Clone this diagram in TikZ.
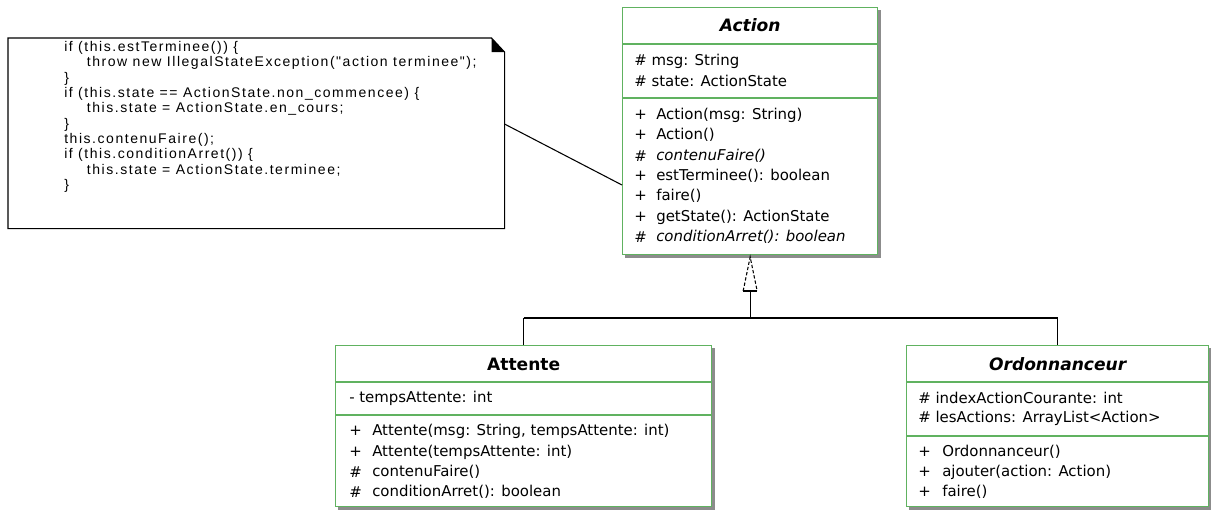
\documentclass[tikz,border=0pt]{standalone}
\usepackage{fontspec}
\setmainfont{DejaVu Sans}
\newfontfamily\notefont[LetterSpace=11]{Liberation Sans}
\newcommand\tightlines{\lineskiplimit=-10pt\relax\lineskip=0pt\relax}
\usetikzlibrary{backgrounds}
\definecolor{umlgreen}{RGB}{96,178,96}
\definecolor{shadowgray}{RGB}{140,140,140}
\tikzset{
  classbox/.style={draw=umlgreen, fill=white, line width=1pt, inner sep=0pt, anchor=north west},
  sep/.style={draw=umlgreen, line width=1pt},
  member/.style={anchor=west, inner sep=0pt, font=\fontsize{11.2}{13}\selectfont},
  ctitle/.style={inner sep=0pt, font=\fontsize{12.8}{15}\selectfont\bfseries},
  notetext/.style={anchor=north west, inner sep=0pt, align=left,
    font=\notefont\fontsize{10.5}{11.5}\selectfont\tightlines},
  link/.style={draw=black, line width=0.8pt},
}
\begin{document}
\begin{tikzpicture}[x=0.75pt, y=-0.75pt]
\useasboundingbox (0,0) rectangle (1211,512);

% ---- class boxes ----
\node[classbox, minimum width=191.25pt, minimum height=185.25pt] (action) at (622,7) {};
\node[classbox, minimum width=282pt, minimum height=120.75pt] (attente) at (335,345) {};
\node[classbox, minimum width=226.5pt, minimum height=120.75pt] (ordo) at (906,345) {};

\begin{pgfonlayer}{background}
  \foreach \b in {action, attente, ordo}
    \fill[shadowgray] ([shift={(3,3)}]\b.north west) rectangle ([shift={(3,3)}]\b.south east);
\end{pgfonlayer}

% compartments
\draw[sep] (action.west |- 0,44) -- (action.east |- 0,44);
\draw[sep] (action.west |- 0,98) -- (action.east |- 0,98);
\draw[sep] (attente.west |- 0,382) -- (attente.east |- 0,382);
\draw[sep] (attente.west |- 0,415) -- (attente.east |- 0,415);
\draw[sep] (ordo.west |- 0,382) -- (ordo.east |- 0,382);
\draw[sep] (ordo.west |- 0,436) -- (ordo.east |- 0,436);

% ---- Action ----
\node[ctitle] (actionT) at (action.north |- 0,25) {\itshape Action};
\node[member] (aA1) at (634,61) {\# msg: String};
\node[member] (aA2) at (634,81) {\# state: ActionState};
\foreach \y/\m/\t [count=\i] in {
    115/+/Action(msg: String),
    135/+/Action(),
    156/\#/\itshape contenuFaire(),
    176/+/estTerminee(): boolean,
    196/+/faire(),
    217/+/getState(): ActionState,
    237/\#/\itshape conditionArret(): boolean} {
  \node[member] (aM\i s) at (634,\y) {\m};
  \node[member] (aM\i) at (656,\y) {\t};
}

% ---- Attente ----
\node[ctitle] (attenteT) at (attente.north |- 0,364) {Attente};
\node[member] (tA1) at (349,398) {- tempsAttente: int};
\foreach \y/\m/\t [count=\i] in {
    431/+/{Attente(msg: String, tempsAttente: int)},
    452/+/Attente(tempsAttente: int),
    472/\#/contenuFaire(),
    492/\#/conditionArret(): boolean} {
  \node[member] (tM\i s) at (349,\y) {\m};
  \node[member] (tM\i) at (372,\y) {\t};
}

% ---- Ordonnanceur ----
\node[ctitle] (ordoT) at (ordo.north |- 0,364) {\itshape Ordonnanceur};
\node[member] (oA1) at (918,398) {\# indexActionCourante: int};
\node[member] (oA2) at (918,418) {\# lesActions: ArrayList<Action>};
\foreach \y/\m/\t [count=\i] in {
    452/+/Ordonnanceur(),
    472/+/ajouter(action: Action),
    492/+/faire()} {
  \node[member] (oM\i s) at (918,\y) {\m};
  \node[member] (oM\i) at (942,\y) {\t};
}

% ---- note with folded corner ----
\node[inner sep=0pt, minimum width=372pt, minimum height=142.5pt, anchor=north west] (note) at (8,38) {};
\draw[line width=0.8pt, fill=white]
  (note.north west) -- ([xshift=-9.75pt]note.north east) -- ([yshift=-10.5pt]note.north east)
  -- (note.south east) -- (note.south west) -- cycle;
\fill[black] ([xshift=-9.75pt]note.north east) -- ([yshift=-10.5pt]note.north east)
  -- ([xshift=-9.75pt,yshift=-10.5pt]note.north east) -- cycle;
\node[notetext] (code) at (64,41) {%
if (this.estTerminee()) \{\\
\hspace*{17pt}throw new IllegalStateException("action terminee");\\
\}\\
if (this.state == ActionState.non\_commencee) \{\\
\hspace*{17pt}this.state = ActionState.en\_cours;\\
\}\\
this.contenuFaire();\\
if (this.conditionArret()) \{\\
\hspace*{17pt}this.state = ActionState.terminee;\\
\}};

% note anchor line
\coordinate (noteEnd) at (note.east |- 0,124);
\coordinate (actionEnd) at (action.west |- 0,185);
\draw[link] (noteEnd) -- (actionEnd);

% ---- generalization ----
\coordinate (tip) at (action.south |- 0,257);
\coordinate (base) at (action.south |- 0,291);
\coordinate (bus) at (action.south |- 0,318);
\draw[link, dash pattern=on 2.5pt off 1.5pt] ([xshift=-5.25pt]base) -- (tip) -- ([xshift=5.25pt]base);
\draw[link] ([xshift=-5.25pt]base) -- ([xshift=5.25pt]base);
\draw[link] (base) -- (bus);
\draw[link] (attente.north |- bus) -- (ordo.north |- bus);
\draw[link] (attente.north |- bus) -- (attente.north);
\draw[link] (ordo.north |- bus) -- (ordo.north);
\end{tikzpicture}
\end{document}
